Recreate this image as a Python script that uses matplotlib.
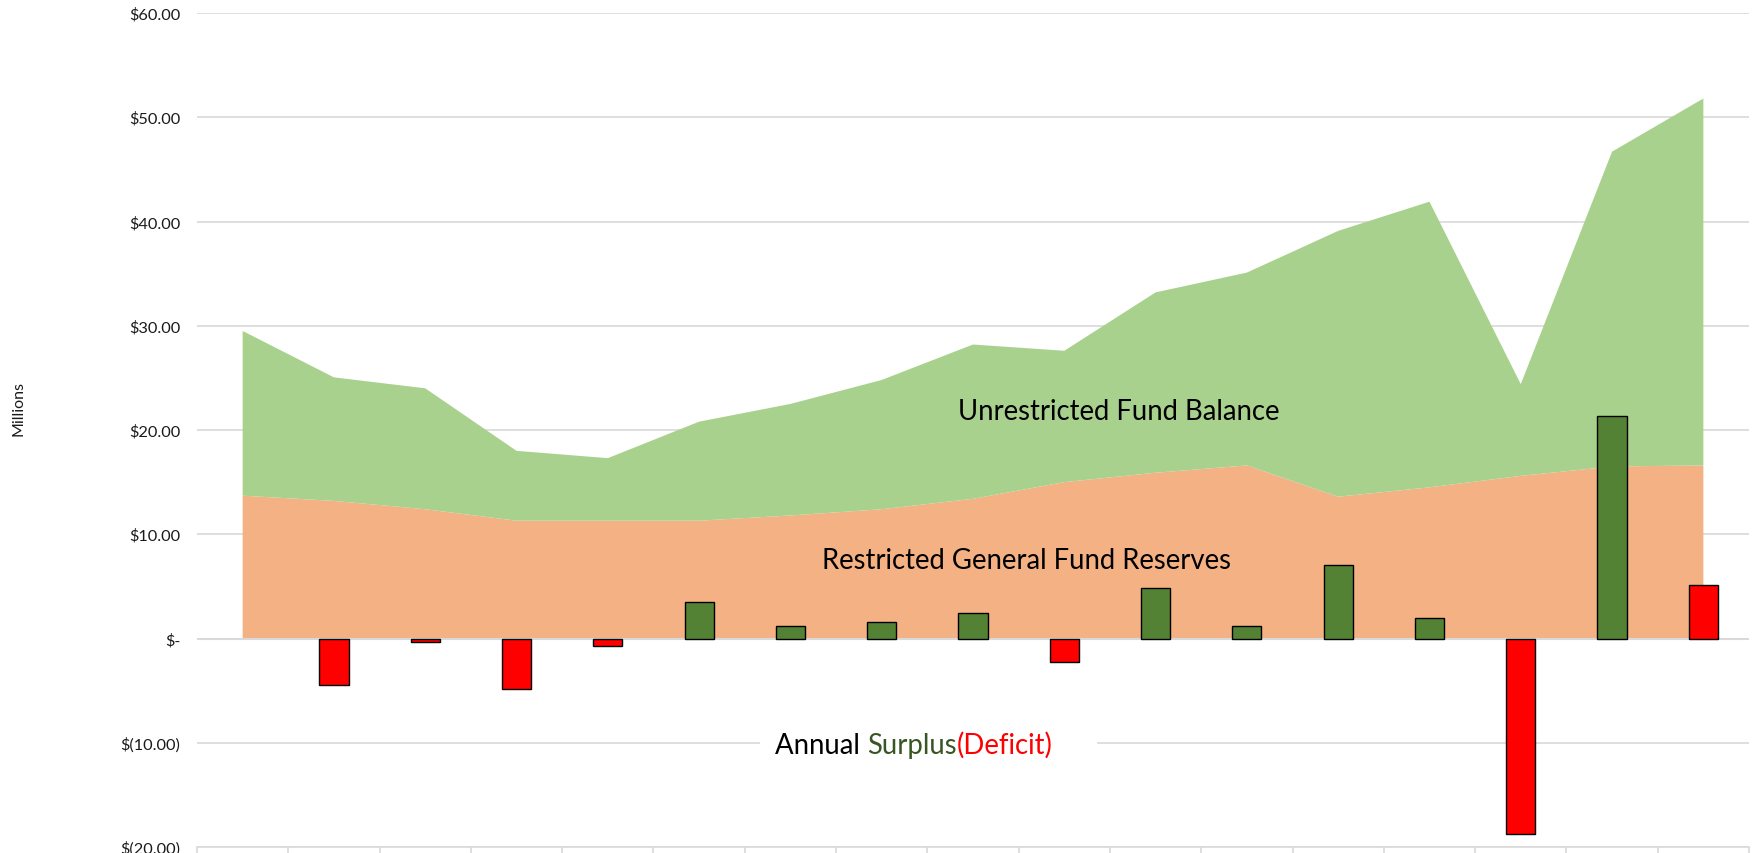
import numpy as np
import matplotlib
matplotlib.use("Agg")
import matplotlib.pyplot as plt
from matplotlib.ticker import FixedLocator, NullFormatter
from matplotlib.patches import Rectangle

# ---- data (millions of dollars) ----
years = list(range(1, 18))  # 17 fiscal years (labels not visible in reference)
restricted = [13.7, 13.2, 12.4, 11.3, 11.3, 11.3, 11.8, 12.4, 13.4, 15.0,
              15.9, 16.6, 13.6, 14.5, 15.6, 16.5, 16.6]
total_balance = [29.5, 25.05, 24.0, 18.0, 17.3, 20.8, 22.5, 24.8, 28.2, 27.6,
                 33.2, 35.1, 39.1, 41.9, 24.4, 46.7, 51.8]
unrestricted = [t - r for t, r in zip(total_balance, restricted)]
surplus = [np.nan, -4.47, -0.3, -4.86, -0.74, 3.5, 1.2, 1.56, 2.46, -2.24,
           4.8, 1.18, 7.03, 1.92, -18.8, 21.35, 5.1]
yticks = [-20, -10, 0, 10, 20, 30, 40, 50, 60]
ytick_labels = ["$(20.00)", "$(10.00)", "$-", "$10.00", "$20.00", "$30.00",
                "$40.00", "$50.00", "$60.00"]

# ---- style ----
FONT = ["Lato", "DejaVu Sans"]
plt.rcParams["font.family"] = FONT
C_UNR = "#A9D18E"
C_RES = "#F4B183"
C_POS = "#548235"
C_NEG = "#FF0000"
C_GRID = "#D9D9D9"
FS = 19.8

fig = plt.figure(figsize=(17.56, 8.54), dpi=100)
ax = fig.add_axes([197 / 1756, 1 - 848 / 854, (1749 - 197) / 1756, (848 - 14) / 854])

x = np.arange(len(years))
ax.set_xlim(-0.5, len(years) - 0.5)
ax.set_ylim(-20, 60)

# gridlines (below areas)
for yv in yticks:
    ax.axhline(yv, color=C_GRID, lw=1.2, zorder=0)

ax.stackplot(x, restricted, unrestricted, colors=[C_RES, C_UNR], zorder=1, lw=0)
ax.axhline(0, color=C_GRID, lw=1.5, zorder=2)

bar_colors = [C_POS if (v >= 0) else C_NEG for v in np.nan_to_num(surplus)]
bar_colors[-1] = C_NEG  # final (projected) year shown in red in the reference
for xi, v, c in zip(x, surplus, bar_colors):
    if np.isnan(v):
        continue
    ax.bar(xi, v, width=0.32, color=c, edgecolor="black", linewidth=1.0, zorder=3)

# axes styling
for s in ["top", "right", "left"]:
    ax.spines[s].set_visible(False)
ax.spines["bottom"].set_color(C_GRID)
ax.spines["bottom"].set_linewidth(1.2)
ax.xaxis.set_major_locator(FixedLocator(np.arange(-0.5, len(years), 1.0)))
ax.xaxis.set_major_formatter(NullFormatter())
ax.tick_params(axis="x", length=7, width=1.2, color=C_GRID)
ax.set_yticks(yticks)
ax.set_yticklabels(ytick_labels)
ax.tick_params(axis="y", length=0, pad=12, labelsize=11.8, labelcolor="#1a1a1a")

fig.text(19 / 1756, 1 - 409 / 854, "Millions", rotation=90, ha="center", va="center",
         fontsize=11.5, color="#1a1a1a")

# in-chart labels
ax.text(9.6, 21.1, "Unrestricted Fund Balance", ha="center", va="baseline",
        fontsize=FS, color="black", zorder=5)
ax.text(8.59, 6.77, "Restricted General Fund Reserves", ha="center", va="baseline",
        fontsize=FS, color="black", zorder=5)

t1 = ax.text(5.83, -11.0, "Annual ", ha="left", va="baseline", fontsize=FS,
             color="black", zorder=5)
t2 = ax.annotate("Surplus", xy=(1, 0), xycoords=t1, ha="left", va="bottom",
                 fontsize=FS, color="#375623", zorder=5)
t3 = ax.annotate("(Deficit)", xy=(1, 0), xycoords=t2, ha="left", va="bottom",
                 fontsize=FS, color=C_NEG, zorder=5)

# white background behind the multi-coloured label (covers the gridline)
fig.canvas.draw()
r = fig.canvas.get_renderer()
b1 = t1.get_window_extent(r)
b3 = t3.get_window_extent(r)
inv = ax.transAxes.inverted()
(x0, y0) = inv.transform((b1.x0 - 15, b1.y0 - 8))
(x1, y1) = inv.transform((b3.x1 + 45, b3.y1 + 8))
ax.add_patch(Rectangle((x0, y0), x1 - x0, y1 - y0, transform=ax.transAxes,
                       facecolor="white", edgecolor="none", zorder=4))

fig.savefig("out.png", dpi=100, facecolor="white")
